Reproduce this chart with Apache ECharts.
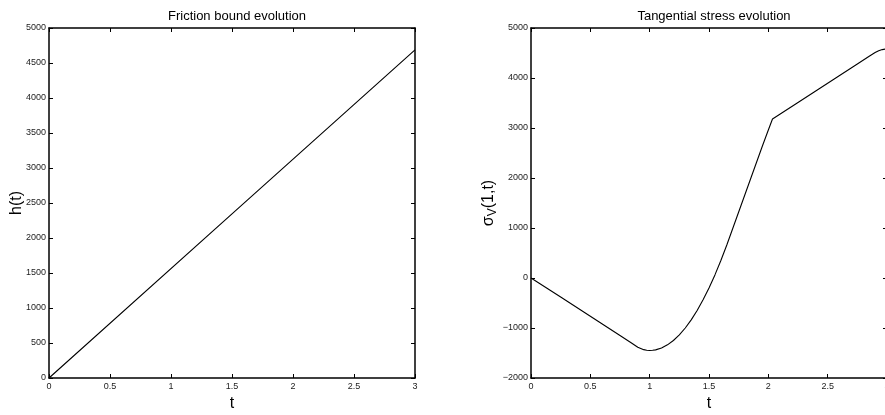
<!DOCTYPE html>
<html>
<head>
<meta charset="utf-8">
<script src="https://cdn.jsdelivr.net/npm/echarts@6/dist/echarts.min.js"></script>
<style>html,body{margin:0;padding:0;background:#fff;}#c{width:885px;height:415px;}</style>
</head>
<body>
<div id="c"></div>
<script>
// Left panel: friction bound h(t)
const frictionT = [0, 1.5, 3];
const frictionH = [0, 2345, 4688];

// Right panel: tangential stress sigma_V(1,t)
const stressT = [0, 0.25, 0.5, 0.75, 0.85, 0.9, 0.95, 0.975, 1.0, 1.025, 1.05, 1.1, 1.15, 1.2, 1.25, 1.3, 1.35, 1.4, 1.45, 1.5, 1.55, 1.6, 1.65, 1.7, 1.75, 1.8, 1.85, 1.9, 1.95, 2.0, 2.035, 2.25, 2.5, 2.75, 2.85, 2.9, 2.93, 2.96, 3.0];
const stressV = [0, -380, -765, -1150, -1305, -1385, -1433, -1446, -1450, -1446, -1437, -1400, -1337, -1250, -1137, -1000, -837, -650, -437, -200, 62, 350, 660, 990, 1320, 1650, 1980, 2310, 2640, 2960, 3180, 3510, 3895, 4280, 4435, 4510, 4545, 4568, 4585];

// Axis settings
const xTicks = {min: 0, max: 3, interval: 0.5};
const leftY = {min: 0, max: 5000, interval: 500};
const rightY = {min: -2000, max: 5000, interval: 1000};

const titles = ['Friction bound evolution', 'Tangential stress evolution'];

const FONT = 'Liberation Sans, Arial, sans-serif';
const axisLineStyle = {show: true, onZero: false, lineStyle: {color: '#000', width: 1.5}};
const tick = {show: true, inside: true, length: 4, lineStyle: {color: '#000', width: 1}};
const lbl = {color: '#222', fontSize: 9, fontFamily: FONT};

function xPair(g) {
  return [
    {type: 'value', gridIndex: g, position: 'bottom', min: xTicks.min, max: xTicks.max, interval: xTicks.interval,
     name: 't', nameLocation: 'middle', nameGap: 17, nameTextStyle: {fontSize: 16, fontFamily: FONT, color: '#000'},
     axisLine: axisLineStyle, axisTick: tick, splitLine: {show: false},
     axisLabel: Object.assign({margin: 4, showMinLabel: true, showMaxLabel: true}, lbl)},
    {type: 'value', gridIndex: g, position: 'top', min: xTicks.min, max: xTicks.max, interval: xTicks.interval,
     axisLine: axisLineStyle, axisTick: tick, splitLine: {show: false}, axisLabel: {show: false}}
  ];
}
function yPair(g, r, name, rich, gap) {
  const main = {type: 'value', gridIndex: g, position: 'left', min: r.min, max: r.max, interval: r.interval,
     name: name, nameLocation: 'middle', nameGap: gap, nameRotate: 90, nameMoveOverlap: false,
     nameTextStyle: Object.assign({fontSize: 16, fontFamily: FONT, color: '#000'}, rich ? {rich: rich} : {}),
     axisLine: axisLineStyle, axisTick: tick, splitLine: {show: false},
     axisLabel: Object.assign({margin: 3, formatter: v => String(v).replace('-', '\u2212')}, lbl)};
  const opp = {type: 'value', gridIndex: g, position: 'right', min: r.min, max: r.max, interval: r.interval,
     axisLine: axisLineStyle, axisTick: tick, splitLine: {show: false}, axisLabel: {show: false}};
  return [main, opp];
}

const sigmaRich = {
  a: {fontSize: 16, fontFamily: FONT, color: '#000'},
  s: {fontSize: 12, fontFamily: FONT, color: '#000', padding: [9, 0, 0, 0]}
};

const chart = echarts.init(document.getElementById('c'), null, {renderer: 'canvas'});
chart.setOption({
  backgroundColor: '#fff',
  animation: false,
  title: [
    {text: titles[0], left: 232, top: 5, textAlign: 'center', textStyle: {fontSize: 13, fontWeight: 'normal', fontFamily: FONT, color: '#000'}},
    {text: titles[1], left: 709, top: 5, textAlign: 'center', textStyle: {fontSize: 13, fontWeight: 'normal', fontFamily: FONT, color: '#000'}}
  ],
  grid: [
    {left: 49, top: 28, width: 366, height: 350, containLabel: false, outerBoundsMode: 'none'},
    {left: 531, top: 28, width: 356, height: 350, containLabel: false, outerBoundsMode: 'none'}
  ],
  xAxis: [...xPair(0), ...xPair(1)],
  yAxis: [...yPair(0, leftY, 'h(t)', null, 24), ...yPair(1, rightY, '{a|σ}{s|V}{a|(1,t)}', sigmaRich, 32)],
  series: [
    {type: 'line', xAxisIndex: 0, yAxisIndex: 0, showSymbol: false, symbol: 'none',
     lineStyle: {color: '#000', width: 1.1}, data: frictionT.map((t, i) => [t, frictionH[i]])},
    {type: 'line', xAxisIndex: 2, yAxisIndex: 2, showSymbol: false, symbol: 'none', smooth: false,
     lineStyle: {color: '#000', width: 1.1}, data: stressT.map((t, i) => [t, stressV[i]])}
  ]
});
</script>
</body>
</html>
